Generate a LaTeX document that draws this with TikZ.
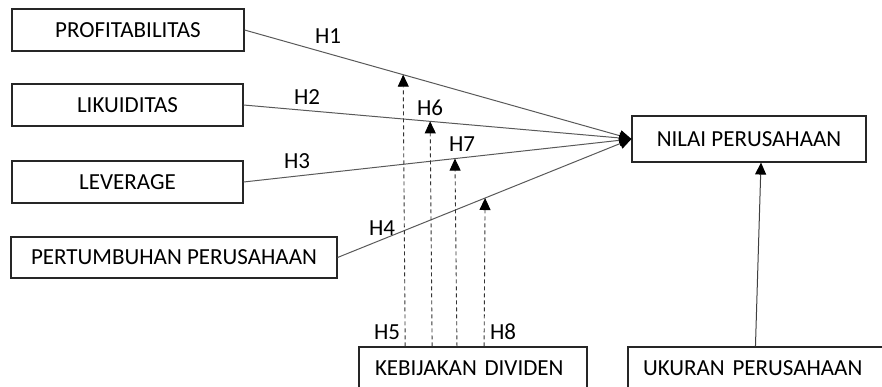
\documentclass[tikz,border=0pt]{standalone}
\usepackage{fontspec}
\setmainfont{Carlito}
\usetikzlibrary{arrows.meta,calc}
\begin{document}
\begin{tikzpicture}[x=1pt,y=-1pt,
  box/.style={draw=black!85,line width=1.1pt,fill=white,inner sep=0pt,
    font=\fontsize{23}{25}\selectfont,text height=14.8pt,text depth=0pt},
  lbl/.style={inner sep=0pt,font=\fontsize{23}{25}\selectfont,text height=14.8pt,text depth=0pt},
  link/.style={draw=black!65,line width=1pt,-{Triangle[length=12pt,width=11pt,color=black]}},
  dlink/.style={draw=black!80,line width=0.9pt,dash pattern=on 4pt off 3pt,
    -{Triangle[length=12pt,width=11pt,color=black]}}]
\useasboundingbox (0,0) rectangle (882,387);
% nodes
\node[box,minimum width=232pt,minimum height=42pt] (prof) at (128,30) {PROFITABILITAS};
\node[box,minimum width=231pt,minimum height=42pt] (liku) at (127.5,105) {LIKUIDITAS};
\node[box,minimum width=231pt,minimum height=42pt] (lev) at (127.5,182) {LEVERAGE};
\node[box,minimum width=326pt,minimum height=41pt] (pert) at (174,257.5) {PERTUMBUHAN PERUSAHAAN};
\node[box,minimum width=234pt,minimum height=46pt] (nilai) at (749,139) {NILAI PERUSAHAAN};
\node[box,minimum height=42pt,text width=196pt,inner xsep=16pt,align=left] (kebij) at (473,368) {KEBIJAKAN DIVIDEN};
\node[box,minimum height=42pt,text width=237pt,inner xsep=15pt,align=left] (uk) at (761.5,368) {UKURAN PERUSAHAAN};
% points on the paths
\path (prof.east) -- (nilai.west) coordinate[pos=0.41] (t1);
\path (liku.east) -- (nilai.west) coordinate[pos=0.481] (t2);
\path (lev.east) -- (nilai.west) coordinate[pos=0.545] (t3);
\path (pert.east) -- (nilai.west) coordinate[pos=0.502] (t4);
% main arrows
\draw[link] (prof.east) -- (nilai.west);
\draw[link] (liku.east) -- (nilai.west);
\draw[link] (lev.east) -- (nilai.west);
\draw[link] (pert.east) -- (nilai.west);
% moderation arrows
\draw[dlink] ($(kebij.north -| t1)+(2,0)$) -- (t1);
\draw[dlink] ($(kebij.north -| t2)+(2,0)$) -- (t2);
\draw[dlink] ($(kebij.north -| t3)+(2,0)$) -- (t3);
\draw[dlink] ($(kebij.north -| t4)+(-1,0)$) -- (t4);
% control arrow
\draw[link,draw=black!75] ($(uk.north west)+(128,0)$) -- ($(nilai.south)+(12,0)$);
% labels
\node[lbl] (h1) at (328,36) {H1};
\node[lbl] (h2) at (307,97) {H2};
\node[lbl] (h3) at (297,161) {H3};
\node[lbl] (h4) at (382,228) {H4};
\node[lbl] (h5) at (387,332) {H5};
\node[lbl] (h6) at (430,108) {H6};
\node[lbl] (h7) at (462,144) {H7};
\node[lbl] (h8) at (503,332) {H8};
\end{tikzpicture}
\end{document}
